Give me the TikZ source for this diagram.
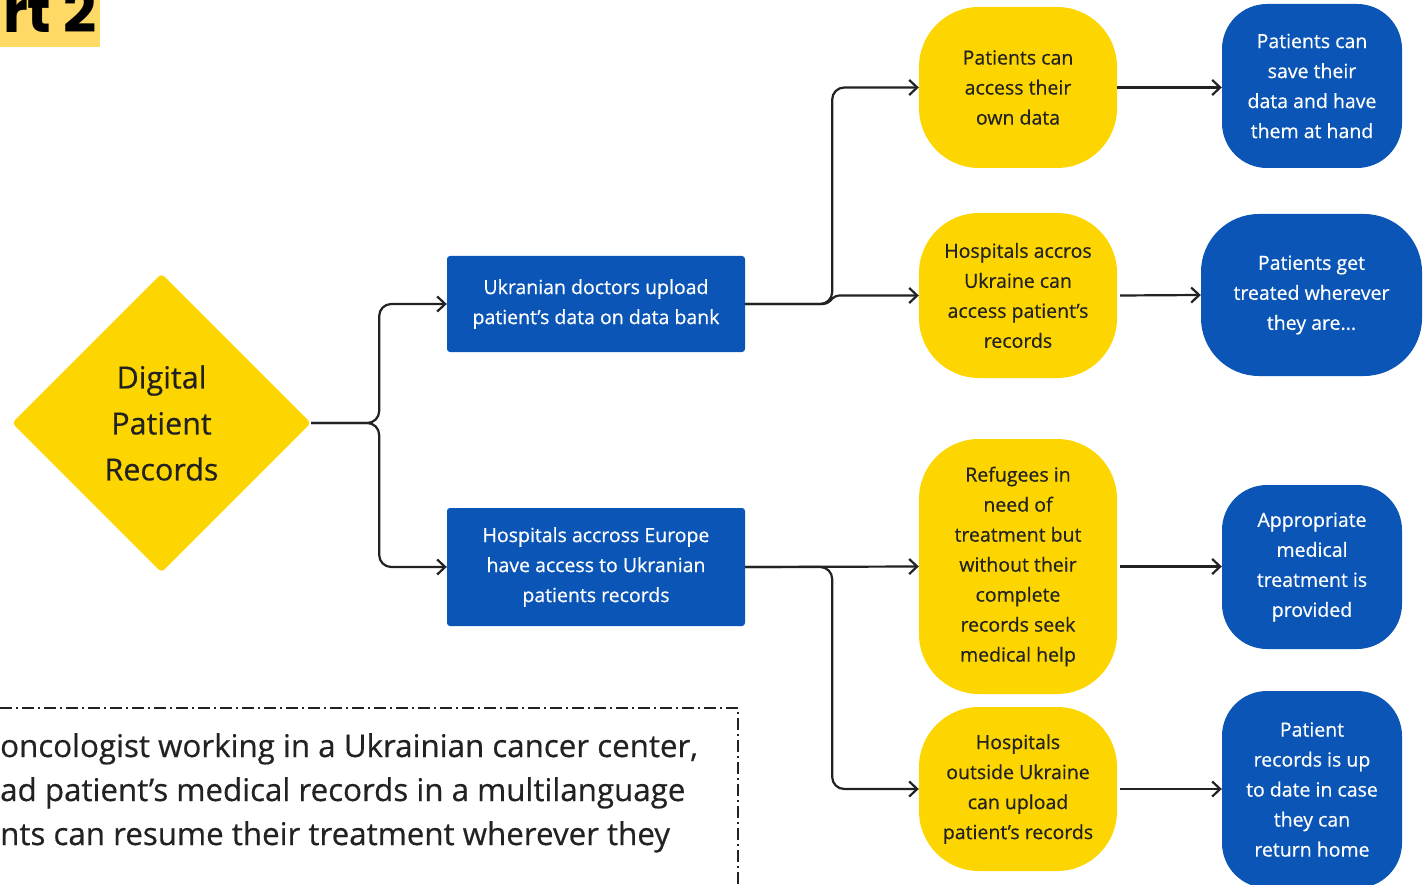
\documentclass[tikz,border=0pt]{standalone}
\usepackage{fontspec}
\setmainfont{Open Sans}[FakeBold=0.5]
\newfontfamily\rtfont{Poppins}
\usetikzlibrary{arrows.meta,shapes.geometric}
\definecolor{uyellow}{HTML}{FDD500}
\definecolor{ublue}{HTML}{0A55B5}
\definecolor{ink}{HTML}{222222}
\definecolor{rtbg}{HTML}{FFD966}
\tikzset{
  txt/.style={font=\fontsize{19.5}{30}\selectfont, align=center, inner sep=0pt},
  bluerect/.style={txt, fill=ublue, text=white, rounded corners=3pt, minimum width=298pt},
  ybox/.style={txt, fill=uyellow, text=ink, rounded corners=60pt, minimum width=198pt},
  bbox/.style={txt, fill=ublue, text=white, rounded corners=45pt},
  conn/.style={draw=ink, line width=2.2pt, rounded corners=12pt, -{Straight Barb[length=8pt,width=15pt,line width=2.2pt]}},
  dashdot/.style={draw=ink, line width=1.3pt, dash pattern=on 12pt off 4pt on 2pt off 4pt},
}
\begin{document}
\begin{tikzpicture}[x=1pt,y=-1pt]
\useasboundingbox (0,0) rectangle (1423,885);
\clip (0,0) rectangle (1423,885);
% title fragment
\fill[rtbg] (0,0) rectangle (100,47);
\node[anchor=base east, inner sep=0pt, font=\rtfont\bfseries\fontsize{58}{58}\selectfont, text=black] (rt) at (97,33) {rt 2};
% diamond
\node[diamond, aspect=1, fill=uyellow, rounded corners=4pt, minimum width=299pt, minimum height=299pt, inner sep=0pt, align=center, text=ink, font=\fontsize{30.5}{46}\selectfont] (dia) at (161.5,423) {Digital\\Patient\\Records};
% second column
\node[bluerect, minimum height=96pt] (A) at (596,304) {Ukranian doctors upload\\patient’s data on data bank};
\node[bluerect, minimum height=118pt] (B) at (596,567) {Hospitals accross Europe\\have access to Ukranian\\patients records};
% third column
\node[ybox, minimum height=161pt] (Y1) at (1018,87.5) {Patients can\\access their\\own data};
\node[ybox, minimum height=165pt] (Y2) at (1018,295.5) {Hospitals accros\\Ukraine can\\access patient’s\\records};
\node[ybox, minimum height=255pt] (Y3) at (1018,566.5) {Refugees in\\need of\\treatment but\\without their\\complete\\records seek\\medical help};
\node[ybox, minimum height=164pt] (Y4) at (1018,789) {Hospitals\\outside Ukraine\\can upload\\patient’s records};
% fourth column
\node[bbox, minimum width=180pt, minimum height=164pt] (C1) at (1312,86) {Patients can\\save their\\data and have\\them at hand};
\node[bbox, rounded corners=58pt, minimum width=221pt, minimum height=162pt] (C2) at (1311.5,295) {Patients get\\treated wherever\\they are...};
\node[bbox, minimum width=180pt, minimum height=164pt] (C3) at (1312,567) {Appropriate\\medical\\treatment is\\provided};
\node[bbox, minimum width=180pt, minimum height=197pt] (C4) at (1312,789.5) {Patient\\records is up\\to date in case\\they can\\return home};
% connectors
\draw[conn] (dia.east) -- ++(68,0) |- (A.west);
\draw[conn] (dia.east) -- ++(68,0) |- (B.west);
\draw[conn] (A.east) -- ++(87,0) |- (Y1.west);
\draw[conn, rounded corners=4pt] (A.east) -- ++(82,0) -- ++(8,-8.5) -- (Y2.west);
\draw[conn] (B.east) -- (Y3.west);
\draw[conn] (B.east) -- ++(87,0) |- (Y4.west);
\draw[conn] (Y1.east) -- (C1.west |- Y1.east);
\draw[conn] ([xshift=3pt]Y2.east) -- (C2.west);
\draw[conn] ([xshift=3pt]Y3.east) -- (C3.west |- Y3.east);
\draw[conn] ([xshift=3pt]Y4.east) -- (C4.west |- Y4.east);
% dashed note box
\coordinate (n1) at (0,708);
\coordinate (n2) at (738,708);
\coordinate (n3) at (738,890);
\draw[dashdot] (n1) -- (n2) -- (n3);
\node[anchor=base west, inner sep=0pt, text=ink, align=left, font=\fontsize{31.3}{44}\selectfont] (note) at (0,845) {oncologist working in a Ukrainian cancer center,\\ad patient’s medical records in a multilanguage\\nts can resume their treatment wherever they};
\end{tikzpicture}
\end{document}
